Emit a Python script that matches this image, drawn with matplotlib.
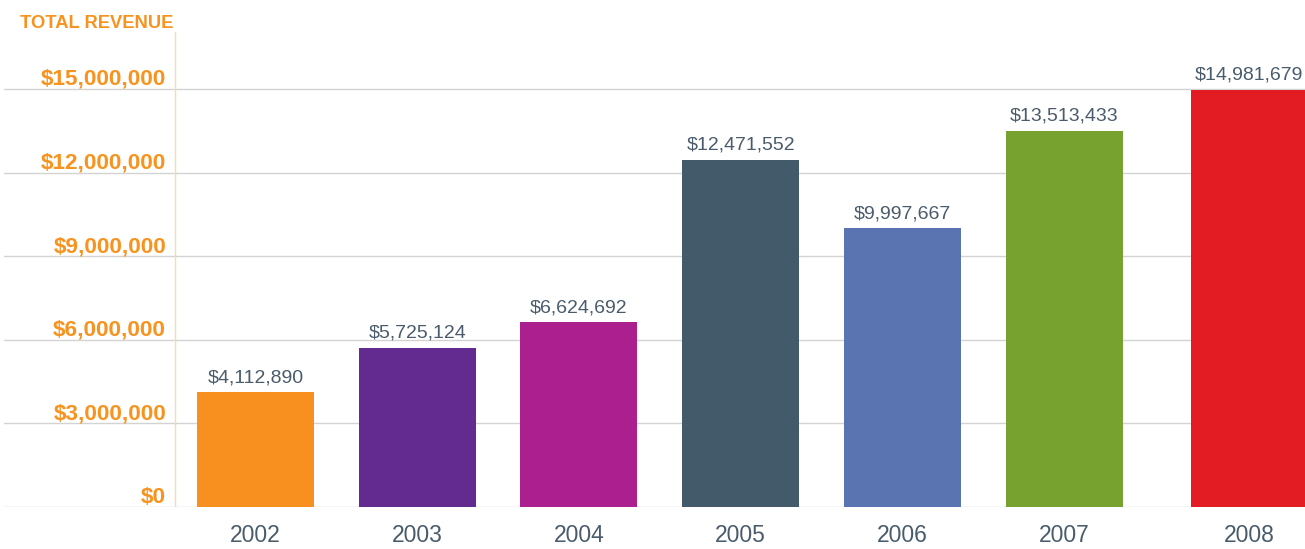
import numpy as np
import matplotlib.pyplot as plt
from matplotlib import font_manager

years = ["2002", "2003", "2004", "2005", "2006", "2007", "2008"]
revenue = [4112890, 5725124, 6624692, 12471552, 9997667, 13513433, 14981679]
colors = ["#f7901e", "#632b8f", "#ab1f8e", "#435a6b", "#5a73b1", "#78a22f", "#e31b23"]
y_ticks = [0, 3000000, 6000000, 9000000, 12000000, 15000000]

installed = {f.name for f in font_manager.fontManager.ttflist}
narrow = "Liberation Sans Narrow" if "Liberation Sans Narrow" in installed else "Liberation Sans"
plt.rcParams["font.family"] = ["Liberation Sans", "DejaVu Sans"]

orange = "#f7931e"
text_grey = "#4a5c6c"

fig = plt.figure(figsize=(13.05, 5.49), dpi=100)
ax = fig.add_axes([4 / 1305, 1 - 507 / 549, 1 - 4 / 1305, 475 / 549])

# the last bar sits a bit further right in the original
x = np.arange(len(years), dtype=float)
x[-1] += 0.144

ax.bar(x, revenue, width=0.724, color=colors, zorder=3)
for xi, v in zip(x, revenue):
    ax.annotate("${:,}".format(v), (xi, v), xytext=(0, 7), textcoords="offset points",
                ha="center", va="baseline", fontsize=14, color=text_grey, zorder=4)

ax.set_xlim(-1.555, 6.49)
ax.set_ylim(0, 17.05e6)

ax.set_yticks(y_ticks)
ax.set_yticklabels([])
ax.tick_params(axis="y", length=0)
ax.yaxis.grid(True, color="#d3d3d3", linewidth=1)
ax.set_axisbelow(True)
for t in y_ticks:
    ax.annotate("${:,}".format(t), (-0.553, t), xytext=(0, 3), textcoords="offset points",
                ha="right", va="baseline", fontsize=16.2, fontweight="bold", color=orange)

ax.set_xticks(x)
ax.set_xticklabels(years, fontsize=16.5, color=text_grey)
ax.tick_params(axis="x", length=0, pad=12)

ax.axvline(-0.5, color="#fdd9b0", linewidth=1, zorder=1)

for s in ax.spines.values():
    s.set_visible(False)

title_size = 15.5 if narrow != "Liberation Sans" else 13.2
fig.text(20 / 1305, 1 - 28 / 549, "TOTAL REVENUE", family=[narrow, "DejaVu Sans"],
         fontsize=title_size, fontweight="bold", color=orange, va="baseline", ha="left")

fig.savefig("out.png", dpi=100)
